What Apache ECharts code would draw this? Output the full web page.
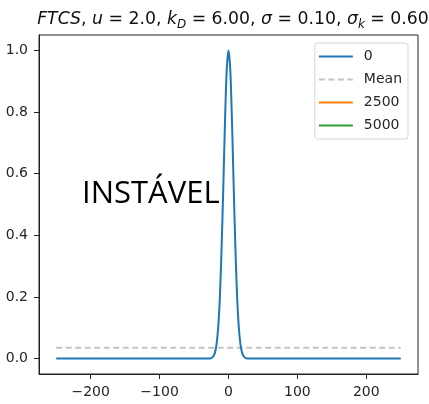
<!DOCTYPE html>
<html><head><meta charset="utf-8">
<script src="https://cdn.jsdelivr.net/npm/echarts@6/dist/echarts.min.js"></script>
<style>html,body{margin:0;padding:0;background:#fff}#c{width:429px;height:404px}</style>
</head><body><div id="c"></div>
<script>
// Data
const xValues = [-250, -30, -27.5, -25, -22.5, -20, -17.5, -15, -12.5, -10, -7.5, -5, -2.5, 0, 2.5, 5, 7.5, 10, 12.5, 15, 17.5, 20, 22.5, 25, 27.5, 30, 250];
const series0 = [0, 0, 0.0004, 0.0017, 0.006, 0.017, 0.044, 0.10, 0.20, 0.36, 0.56, 0.775, 0.94, 1.0, 0.94, 0.775, 0.56, 0.36, 0.20, 0.10, 0.044, 0.017, 0.006, 0.0017, 0.0004, 0, 0];
const meanX = [-250, 250];
const meanY = [0.035, 0.035];
const series2500 = [];
const series5000 = [];
const xTicks = [-200, -100, 0, 100, 200];
const yTicks = [0, 0.2, 0.4, 0.6, 0.8, 1.0];
const legendNames = ['0', 'Mean', '2500', '5000'];

const zip = (xs, ys) => xs.map((x, i) => [x, ys[i]]);
const chart = echarts.init(document.getElementById('c'));
const font = 'DejaVu Sans';
const tc = '#262626';
const solidIcon = 'path://M0,0h34v2h-34z';
const dashIcon = 'path://M0,0h6v2h-6zM9.5,0h6v2h-6zM19,0h6v2h-6zM28.5,0h5.5v2h-5.5z';
chart.setOption({
  animation: false,
  backgroundColor: '#fff',
  title: {
    text: '{it|FTCS}{n|, }{it|u}{n| = 2.0, }{it|k}{sub|D}{n| = 6.00, }{it|σ}{n| = 0.10, }{it|σ}{sub|k}{n| = 0.60}',
    left: 228, top: 4, textAlign: 'center',
    textStyle: {
      fontWeight: 'normal',
      rich: {
        it: {fontFamily: font, fontStyle: 'italic', fontWeight: 'normal', fontSize: 17.3, color: '#111', lineHeight: 22, verticalAlign: 'middle'},
        n: {fontFamily: font, fontWeight: 'normal', fontSize: 17.3, color: '#111', lineHeight: 22, verticalAlign: 'middle'},
        sub: {fontFamily: font, fontStyle: 'italic', fontWeight: 'normal', fontSize: 12, color: '#111', lineHeight: 22, verticalAlign: 'bottom', padding: [10, 0, 0, 0]}
      }
    }
  },
  grid: {left: 39, right: 11, top: 35, bottom: 30, show: true, borderColor: '#222', borderWidth: 1, containLabel: false},
  legend: {
    data: [
      {name: legendNames[0], icon: solidIcon},
      {name: legendNames[1], icon: dashIcon},
      {name: legendNames[2], icon: solidIcon},
      {name: legendNames[3], icon: solidIcon}
    ],
    symbolKeepAspect: false,
    right: 21, top: 43,
    orient: 'vertical',
    itemWidth: 34, itemHeight: 2, itemGap: 6,
    backgroundColor: '#fff', borderColor: '#d6d6d6', borderWidth: 1, borderRadius: 3,
    padding: [5, 6, 5, 4],
    textStyle: {fontFamily: font, fontSize: 14, color: tc, padding: [0, 0, 0, 6], lineHeight: 17}
  },
  xAxis: {
    type: 'value', min: -275, max: 275,
    axisLine: {show: true, onZero: false, lineStyle: {color: '#222'}},
    splitLine: {show: false},
    axisTick: {show: true, length: 5, lineStyle: {color: '#222'}, customValues: xTicks},
    axisLabel: {fontFamily: font, fontSize: 14, color: tc, margin: 11, customValues: xTicks,
      formatter: v => (v < 0 ? '\u2212' + Math.abs(v) : String(v))}
  },
  yAxis: {
    type: 'value', min: -0.05, max: 1.05,
    axisLine: {show: true, onZero: false, lineStyle: {color: '#222'}},
    splitLine: {show: false},
    axisTick: {show: true, length: 5, lineStyle: {color: '#222'}, customValues: yTicks},
    axisLabel: {fontFamily: font, fontSize: 14, color: tc, margin: 11, customValues: yTicks,
      formatter: v => v.toFixed(1)}
  },
  series: [
    {name: '0', type: 'line', data: zip(xValues, series0), showSymbol: false, symbol: 'none', smooth: 0.3,
      lineStyle: {color: '#1f77b4', width: 2}, itemStyle: {color: '#1f77b4'}, z: 3},
    {name: 'Mean', type: 'line', data: zip(meanX, meanY), showSymbol: false, symbol: 'none',
      lineStyle: {color: '#c4c4c4', width: 2, type: [6, 3.5]}, itemStyle: {color: '#c4c4c4'}, z: 2},
    {name: '2500', type: 'line', data: series2500, symbol: 'none', lineStyle: {color: '#ff7f0e', width: 2}, itemStyle: {color: '#ff7f0e'}},
    {name: '5000', type: 'line', data: series5000, symbol: 'none', lineStyle: {color: '#2ca02c', width: 2}, itemStyle: {color: '#2ca02c'}}
  ],
  graphic: [{
    type: 'text', left: 82, top: 179,
    style: {text: 'INSTÁVEL', font: '31px "Open Sans"', fill: '#000'}
  }]
});
</script></body></html>
